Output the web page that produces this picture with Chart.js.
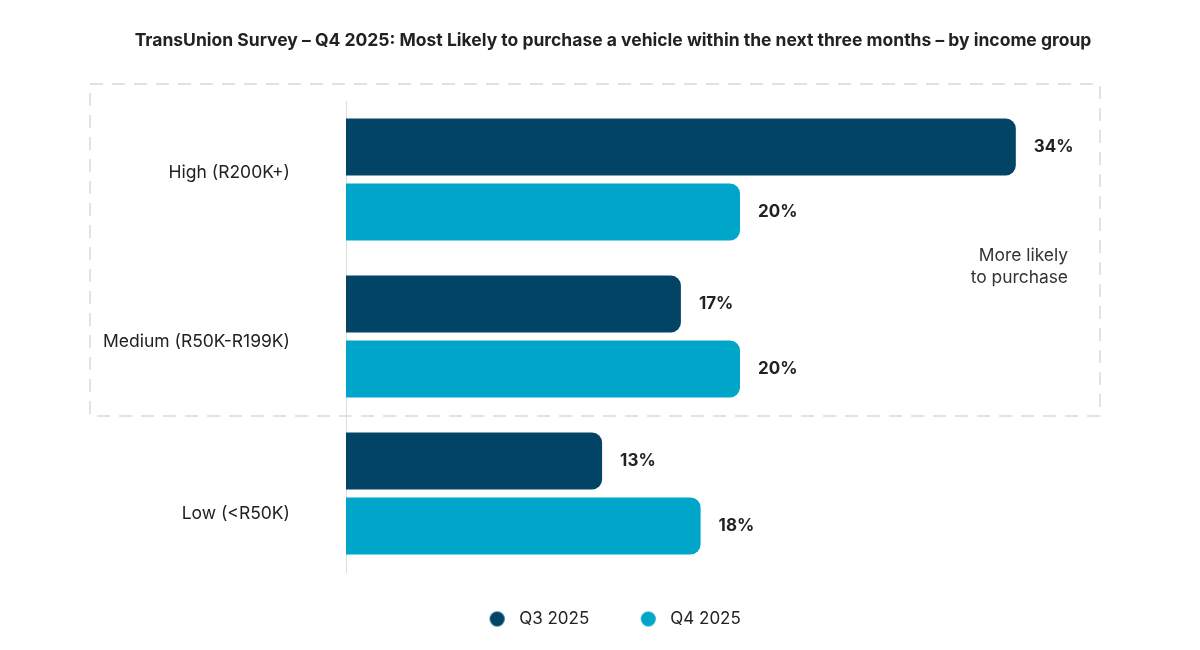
<!DOCTYPE html>
<html>
<head>
<meta charset="utf-8">
<script src="https://cdn.jsdelivr.net/npm/chart.js@4/dist/chart.umd.min.js"></script>
<style>
  html, body { margin: 0; padding: 0; background: #ffffff; }
  #wrap { width: 1200px; height: 650px; position: relative; }
</style>
</head>
<body>
<div id="wrap"><canvas id="c" width="1200" height="650"></canvas></div>
<script>
// ---- data ----
const categories = ['High (R200K+)', 'Medium (R50K-R199K)', 'Low (<R50K)'];
const seriesNames = ['Q3 2025', 'Q4 2025'];
const q3Values = [34, 17, 13];
const q4Values = [20, 20, 18];
const titleText = 'TransUnion Survey \u2013 Q4 2025: Most Likely to purchase a vehicle within the next three months \u2013 by income group';
const noteLines = ['More likely', 'to purchase'];

// ---- styles ----
const DARK = '#024466';
const LIGHT = '#00a6ca';
const TEXT = '#222222';
const FONT = 'Inter, "Noto Sans", sans-serif';
const labelShift = [-7, 5, 20];   // vertical nudge of category labels (px)

function legendDot(color) {
  const c = document.createElement('canvas');
  c.width = 34; c.height = 17;
  const g = c.getContext('2d');
  g.fillStyle = color;
  g.beginPath();
  g.arc(20.5, 8.5, 7.5, 0, Math.PI * 2);
  g.fill();
  return c;
}
const dots = [legendDot(DARK), legendDot(LIGHT)];

const valueLabels = {
  id: 'valueLabels',
  afterDatasetsDraw(chart) {
    const ctx = chart.ctx;
    ctx.save();
    ctx.font = 'bold 17px ' + FONT;
    ctx.fillStyle = TEXT;
    ctx.textAlign = 'left';
    ctx.textBaseline = 'middle';
    chart.data.datasets.forEach((ds, di) => {
      const meta = chart.getDatasetMeta(di);
      meta.data.forEach((el, i) => {
        ctx.fillText(ds.data[i] + '%', el.x + 18, el.y);
      });
    });
    ctx.restore();
  }
};

const categoryLabels = {
  id: 'categoryLabels',
  afterDraw(chart) {
    const ctx = chart.ctx;
    const y = chart.scales.y;
    ctx.save();
    ctx.font = '17.5px ' + FONT;
    ctx.fillStyle = TEXT;
    ctx.textAlign = 'right';
    ctx.textBaseline = 'middle';
    y.getLabels().forEach((lab, i) => {
      ctx.fillText(lab, y.right - 56, y.getPixelForValue(i) + labelShift[i]);
    });
    ctx.restore();
  }
};

const highlightBox = {
  id: 'highlightBox',
  beforeDatasetsDraw(chart) {
    const ctx = chart.ctx;
    const y = chart.scales.y;
    const top = chart.chartArea.top - 17;
    const boundary = (y.getPixelForValue(1) + y.getPixelForValue(2)) / 2;
    const bottom = boundary + 1;
    const left = 90, right = 1100;
    ctx.save();
    ctx.strokeStyle = '#d9d9d9';
    ctx.lineWidth = 1.5;
    ctx.setLineDash([13, 9]);
    ctx.strokeRect(left, top, right - left, bottom - top);
    ctx.setLineDash([]);
    ctx.font = '17.4px ' + FONT;
    ctx.fillStyle = '#333333';
    ctx.textAlign = 'right';
    ctx.textBaseline = 'middle';
    const cy = (y.getPixelForValue(0) + y.getPixelForValue(1)) / 2 + 9;
    ctx.fillText(noteLines[0], 1068, cy - 11);
    ctx.fillText(noteLines[1], 1068, cy + 11);
    ctx.restore();
  }
};

new Chart(document.getElementById('c'), {
  type: 'bar',
  data: {
    labels: categories,
    datasets: [
      { label: seriesNames[0], data: q3Values, backgroundColor: DARK },
      { label: seriesNames[1], data: q4Values, backgroundColor: LIGHT }
    ]
  },
  options: {
    indexAxis: 'y',
    responsive: false,
    animation: false,
    devicePixelRatio: 1,
    layout: { padding: { left: 26, right: 0, top: 0, bottom: 12.5 } },
    datasets: {
      bar: {
        categoryPercentage: 0.828,
        barPercentage: 0.877,
        borderRadius: 10,
        borderSkipped: 'start'
      }
    },
    scales: {
      x: { display: false, min: 0, max: 43.35 },
      y: {
        grid: { display: false, drawTicks: false },
        border: { display: true, color: '#dcdcdc', width: 1 },
        ticks: { display: false },
        afterFit(scale) { scale.width = 320; }
      }
    },
    plugins: {
      title: {
        display: true,
        text: titleText,
        color: TEXT,
        font: { family: FONT, size: 17.5, weight: 'bold' },
        padding: { top: 30, bottom: 50 }
      },
      legend: {
        position: 'bottom',
        labels: {
          usePointStyle: true,
          pointStyleWidth: 34,
          padding: 38.5,
          color: TEXT,
          font: { family: FONT, size: 17 },
          generateLabels(chart) {
            const items = Chart.defaults.plugins.legend.labels.generateLabels(chart);
            return items.map((l, i) => Object.assign(l, {
              pointStyle: dots[l.datasetIndex],
              text: i === items.length - 1 ? l.text + '\u2002' : l.text
            }));
          }
        }
      },
      tooltip: { enabled: false }
    }
  },
  plugins: [highlightBox, valueLabels, categoryLabels]
});
</script>
</body>
</html>
